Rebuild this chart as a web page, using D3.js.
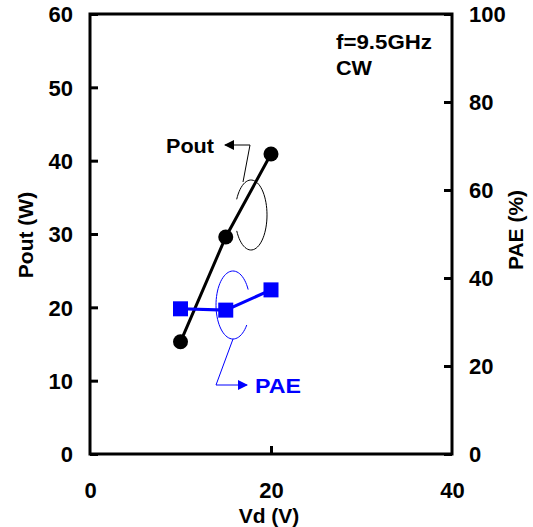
<!DOCTYPE html>
<html><head><meta charset="utf-8">
<script src="https://cdn.jsdelivr.net/npm/d3@7"></script>
<style>body{margin:0;background:#fff}svg{display:block}text{font-family:"Liberation Sans",Arial,sans-serif;font-weight:bold}</style>
</head><body>
<script>
const vd = [10, 15, 20];
const pout = [15.3, 29.6, 40.9];
const pae = [33.0, 32.7, 37.3];
const xTicks = [0, 20, 40];
const yLeftTicks = [0, 10, 20, 30, 40, 50, 60];
const yRightTicks = [0, 20, 40, 60, 80, 100];

const W = 533, H = 527;
const svg = d3.select("body").append("svg").attr("width", W).attr("height", H);
const L = 90, R = 452, T = 14, B = 454;
const x = d3.scaleLinear().domain([0, 40]).range([L, R]);
const yL = d3.scaleLinear().domain([0, 60]).range([B, T]);
const yR = d3.scaleLinear().domain([0, 100]).range([B, T]);

svg.append("rect").attr("x", L).attr("y", T).attr("width", R - L).attr("height", B - T)
  .attr("fill", "none").attr("stroke", "#000").attr("stroke-width", 3);

const fs = 22;
const gl = svg.append("g").attr("transform", `translate(${L},0)`)
  .call(d3.axisRight(yL).tickValues(yLeftTicks).tickSize(8).tickFormat(d3.format("d")));
gl.select(".domain").remove();
gl.selectAll("line").attr("stroke-width", 3);
gl.selectAll("text").attr("x", -17).attr("text-anchor", "end").attr("font-size", fs).attr("font-family", null).attr("dy", "0.36em");
const gr = svg.append("g").attr("transform", `translate(${R},0)`)
  .call(d3.axisLeft(yR).tickValues(yRightTicks).tickSize(8).tickFormat(d3.format("d")));
gr.select(".domain").remove();
gr.selectAll("line").attr("stroke-width", 3);
gr.selectAll("text").attr("x", 17).attr("text-anchor", "start").attr("font-size", fs).attr("font-family", null).attr("dy", "0.36em");
const gb = svg.append("g").attr("transform", `translate(0,${B})`)
  .call(d3.axisTop(x).tickValues(xTicks).tickSize(8).tickFormat(d3.format("d")));
gb.select(".domain").remove();
gb.selectAll("line").attr("stroke-width", 3).attr("opacity", d => (d === 0 || d === 40) ? 0 : 1);
gb.selectAll("text").attr("y", 44).attr("font-size", fs).attr("font-family", null).attr("dy", 0);

const ts = 21;
svg.append("text").attr("x", 269).attr("y", 523).attr("text-anchor", "middle").attr("font-size", ts).text("Vd (V)");
svg.append("text").attr("transform", "translate(33,235) rotate(-90)").attr("text-anchor", "middle").attr("font-size", ts).text("Pout (W)");
svg.append("text").attr("transform", "translate(523,230) rotate(-90)").attr("text-anchor", "middle").attr("font-size", ts).text("PAE (%)");

svg.append("text").attr("x", 336).attr("y", 49).attr("font-size", 20).attr("textLength", 96).attr("lengthAdjust", "spacingAndGlyphs").text("f=9.5GHz");
svg.append("text").attr("x", 336).attr("y", 75).attr("font-size", 20).attr("textLength", 36).attr("lengthAdjust", "spacingAndGlyphs").text("CW");

const linePout = d3.line().x((d, i) => x(vd[i])).y(d => yL(d));
svg.append("path").attr("d", linePout(pout)).attr("fill", "none").attr("stroke", "#000").attr("stroke-width", 3);
svg.selectAll("circle.p").data(pout).join("circle").attr("cx", (d, i) => x(vd[i])).attr("cy", d => yL(d)).attr("r", 7.5).attr("fill", "#000");

const blue = "#0000ff";
const linePae = d3.line().x((d, i) => x(vd[i])).y(d => yR(d));
svg.append("path").attr("d", linePae(pae)).attr("fill", "none").attr("stroke", blue).attr("stroke-width", 3);
svg.selectAll("rect.q").data(pae).join("rect").attr("x", (d, i) => x(vd[i]) - 7.5).attr("y", d => yR(d) - 7.5)
  .attr("width", 15).attr("height", 15).attr("fill", blue);

const defs = svg.append("defs");
function marker(id, color) {
  defs.append("marker").attr("id", id).attr("viewBox", "0 0 10 10").attr("refX", 9).attr("refY", 5)
    .attr("markerWidth", 10).attr("markerHeight", 10).attr("markerUnits", "userSpaceOnUse").attr("orient", "auto")
    .append("path").attr("d", "M0,0L10,5L0,10Z").attr("fill", color);
}
marker("ab", "#000"); marker("abl", blue);

function arcPts(cx, cy, rx, ry, a0, a1) {
  const pts = [];
  for (let i = 0; i <= 60; i++) { const a = a0 + (a1 - a0) * i / 60; pts.push([cx + rx * Math.cos(a), cy + ry * Math.sin(a)]); }
  return pts;
}
svg.append("path").attr("d", d3.line()(arcPts(251, 215, 16, 35, Math.PI * 1.1 + 0.15, Math.PI * 2.85)))
  .attr("fill", "none").attr("stroke", "#000").attr("stroke-width", 1);
svg.append("path").attr("d", `M243,182L250,145L225,145`).attr("fill", "none").attr("stroke", "#000").attr("stroke-width", 1).attr("marker-end", "url(#ab)");
svg.append("text").attr("x", 166).attr("y", 153).attr("font-size", 20).attr("textLength", 48).attr("lengthAdjust", "spacingAndGlyphs").text("Pout");

svg.append("path").attr("d", d3.line()(arcPts(233, 305, 17, 34, Math.PI * 0.2, Math.PI * 1.85)))
  .attr("fill", "none").attr("stroke", blue).attr("stroke-width", 1);
svg.append("path").attr("d", `M233,339L216,385L247,385`).attr("fill", "none").attr("stroke", blue).attr("stroke-width", 1).attr("marker-end", "url(#abl)");
svg.append("text").attr("x", 255).attr("y", 393).attr("font-size", 21).attr("fill", blue).attr("textLength", 46).attr("lengthAdjust", "spacingAndGlyphs").text("PAE");
</script>
</body></html>
